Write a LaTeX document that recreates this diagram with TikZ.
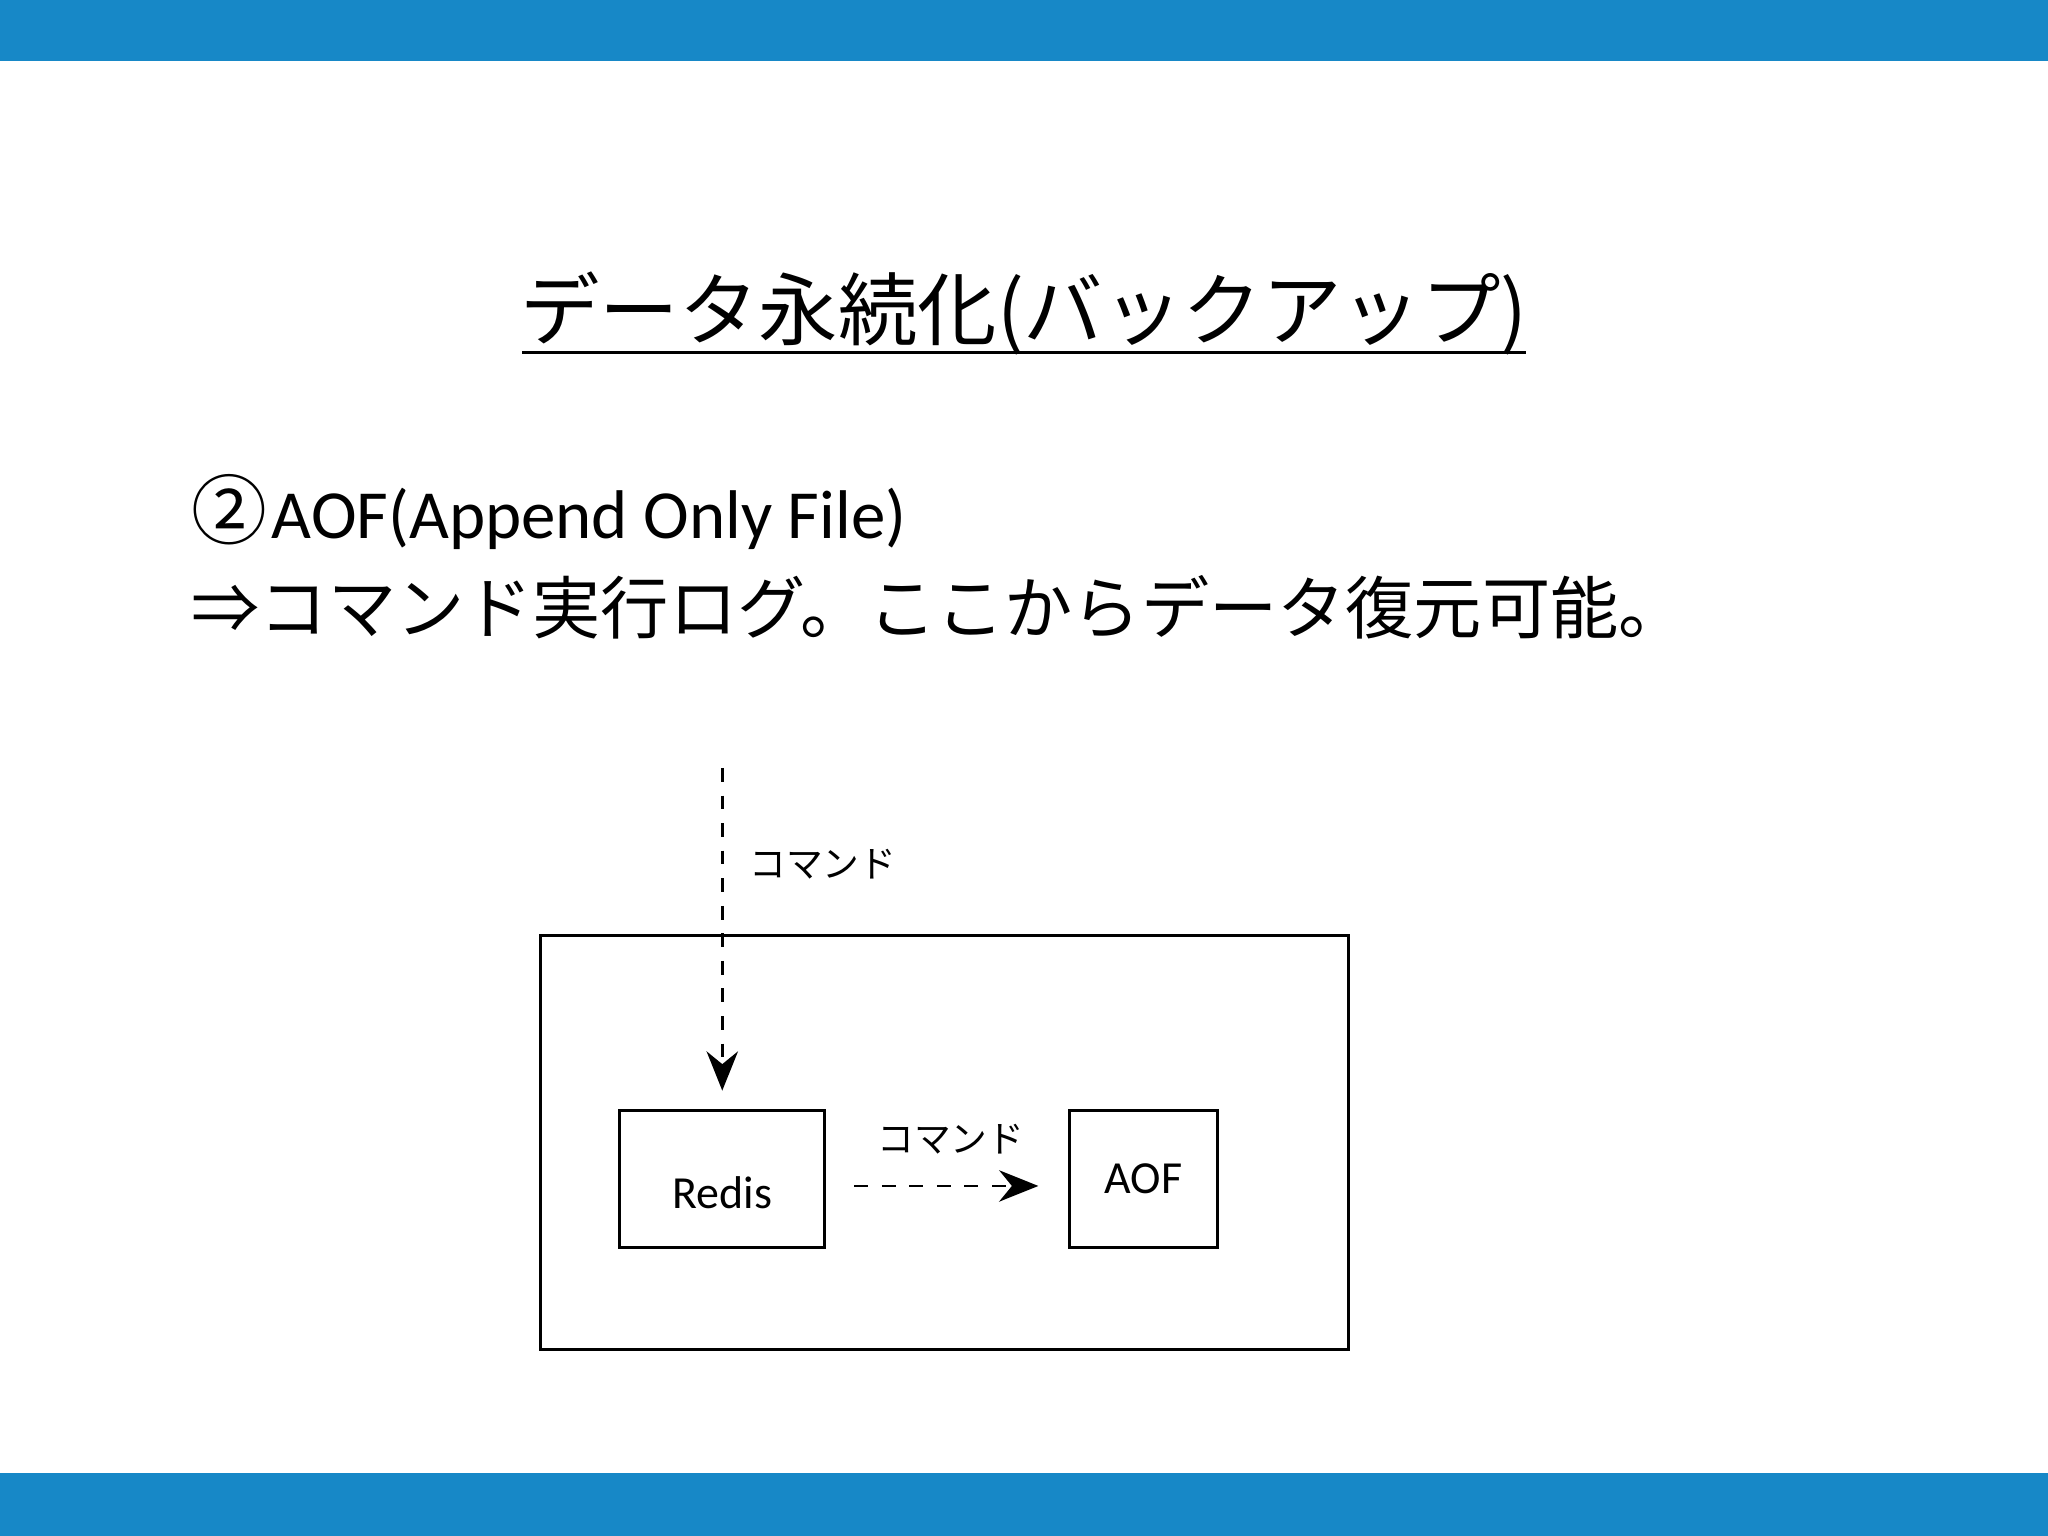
\documentclass[tikz,border=0pt]{standalone}
\usepackage{fontspec}
\setmainfont{Carlito}
\newfontfamily\jp{Noto Sans CJK JP}
\usetikzlibrary{shapes.geometric,arrows.meta}
\definecolor{bar}{HTML}{1788C7}
\begin{document}
\begin{tikzpicture}[x=0.01cm,y=-0.01cm,
  arr/.style={dashed,line width=0.6pt,-{Stealth[length=3mm,width=2.4mm]}},
  lab/.style={font=\jp\fontsize{8}{10}\selectfont}]
\useasboundingbox (0,0) rectangle (1568,1176);
\fill[bar] (0,0) rectangle (1568,47);
\fill[bar] (0,1128) rectangle (1568,1176);
\node (title) at (784,240) {\jp\fontsize{17.3}{19}\selectfont データ永続化(バックアップ)};
\draw[line width=0.8pt] (400,270) -- (1168,270);
\node[anchor=west,inner sep=0] (l1) at (146,392) {\fontsize{15}{17}\selectfont{\jp\fontsize{16.5}{17}\selectfont ②}\kern1pt AOF(Append Only File)};
\node[anchor=west,inner sep=0] (l2) at (146,465) {\jp\fontsize{14.85}{17}\selectfont ⇒コマンド実行ログ。ここからデータ復元可能。};
\node[draw,line width=0.6pt,minimum width=61.8mm,minimum height=31.7mm,anchor=north west] (box) at (413,715) {};
\node[draw,line width=0.6pt,cylinder,shape border rotate=90,aspect=0.2,minimum width=15.7mm,minimum height=10.5mm,inner sep=0] (redis) at (553,903) {};
\node[font=\fontsize{10}{12}\selectfont] (rl) at (553,913) {Redis};
\node[draw,line width=0.6pt,minimum width=11.3mm,minimum height=10.5mm,font=\fontsize{10}{12}\selectfont] (aof) at (875.5,902.5) {AOF};
\coordinate (src) at (553,588);
\coordinate (tip) at (553,835);
\draw[arr] (src) -- (tip);
\node[lab] (c1) at (630,662) {コマンド};
\coordinate (h1) at (654,908);
\coordinate (h2) at (795,908);
\draw[arr] (h1) -- (h2);
\node[lab] (c2) at (728,872) {コマンド};
\end{tikzpicture}
\end{document}
